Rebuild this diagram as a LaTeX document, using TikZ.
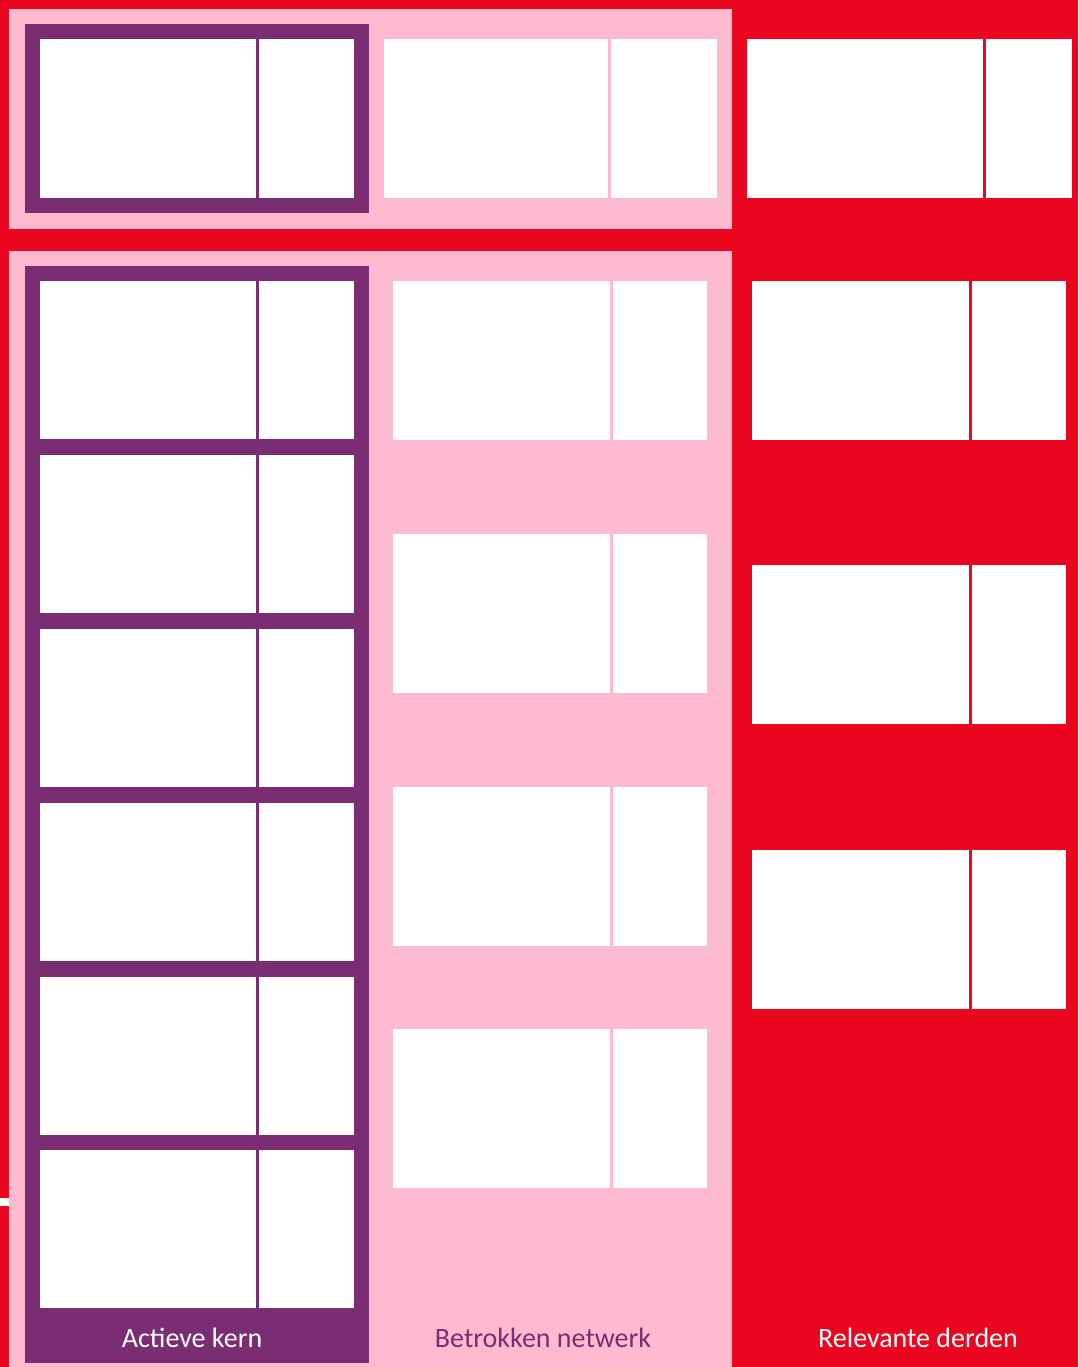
\documentclass[tikz,border=0pt]{standalone}
\usepackage{fontspec}
\setmainfont{Carlito}

\definecolor{kernpurple}{RGB}{122,45,115}
\definecolor{netwerkpink}{RGB}{254,187,208}
\definecolor{derdenred}{RGB}{234,6,30}

\begin{document}
\begin{tikzpicture}[x=0.5pt, y=-0.5pt,
		cell/.style={fill=white},
		kolomtekst/.style={font=\fontsize{14}{16}\selectfont, anchor=base, inner sep=0pt}]
		% background and pink bands
		\fill[derdenred] (0, 0) rectangle (1078, 1367);
		\fill[netwerkpink] (9, 9) rectangle (732, 229);      % top band
		\fill[netwerkpink] (9, 251) rectangle (732, 1367);   % lower band
		\fill[white] (0, 1198) rectangle (9, 1206);          % small mark at left edge
		
		% actieve kern
		\fill[kernpurple] (25, 24) rectangle (369, 213);
		\fill[kernpurple] (25, 266) rectangle (369, 1363);
		\fill[cell] (40, 39) rectangle (256, 198);
		\fill[cell] (259, 39) rectangle (354, 198);
		\foreach \y in {281, 455, 629, 803, 977, 1150} {
			\fill[cell] (40, \y) rectangle (256, \y+158);
			\fill[cell] (259, \y) rectangle (354, \y+158);
		}
		
		% betrokken netwerk
		\fill[cell] (384, 39) rectangle (608, 198);
		\fill[cell] (611, 39) rectangle (717, 198);
		\foreach \y in {281, 534, 787, 1029} {
			\fill[cell] (393, \y) rectangle (610, \y+159);
			\fill[cell] (613, \y) rectangle (707, \y+159);
		}
		
		% relevante derden
		\fill[cell] (747, 39) rectangle (983, 198);
		\fill[cell] (986, 39) rectangle (1072, 198);
		\foreach \y in {281, 565, 850} {
			\fill[cell] (752, \y) rectangle (969, \y+159);
			\fill[cell] (972, \y) rectangle (1066, \y+159);
		}
		
		\node[kolomtekst, white] (kern) at (192, 1347) {Actieve kern};
		\node[kolomtekst, kernpurple] (netwerk) at (543, 1347) {Betrokken netwerk};
		\node[kolomtekst, white] (derden) at (918, 1347) {Relevante derden};
	\end{tikzpicture}
\end{document}
